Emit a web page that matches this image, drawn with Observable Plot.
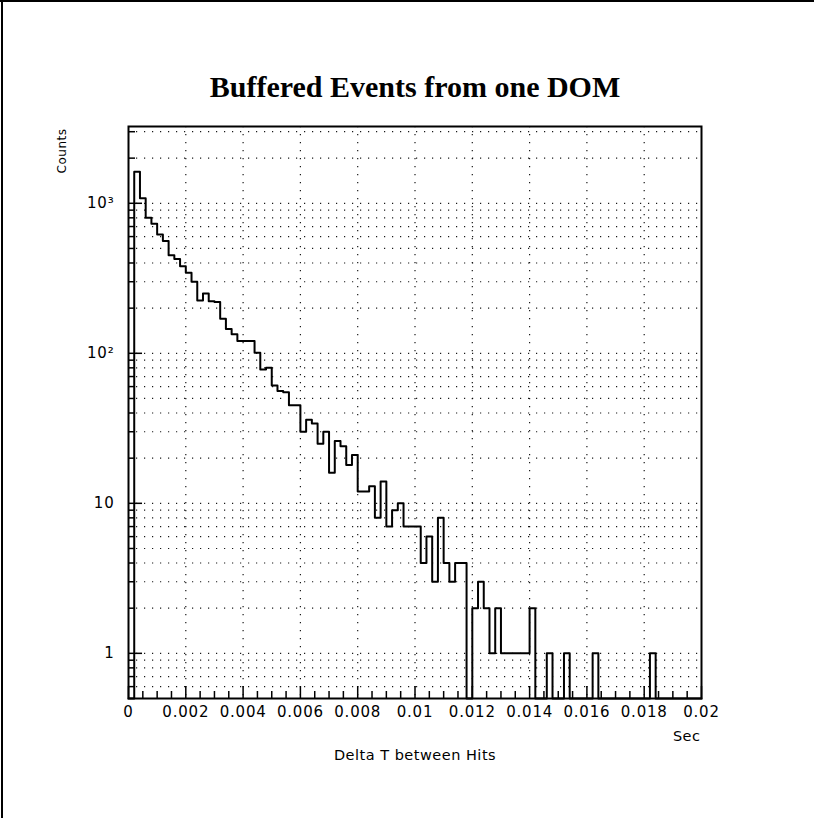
<!DOCTYPE html>
<html>
<head>
<meta charset="utf-8">
<script src="https://cdn.jsdelivr.net/npm/d3@7"></script>
<script src="https://cdn.jsdelivr.net/npm/@observablehq/plot@0.6"></script>
<style>
html, body { margin: 0; padding: 0; background: #fff; }
#wrap { position: relative; width: 814px; height: 818px; overflow: hidden; background: #fff; }
#wrap::before { content: ""; position: absolute; left: 1px; top: 0; width: 2px; height: 818px; background: #000; z-index: 2; }
#wrap::after { content: ""; position: absolute; left: 0; top: 0; width: 814px; height: 2px; background: #000; z-index: 2; }
#wrap svg { display: block; }
g[aria-label="x-axis tick label"] text, g[aria-label="y-axis tick label"] text { letter-spacing: 0.8px; }
g[aria-label="text"] text { letter-spacing: 0.5px; }
g[aria-label="text"][font-weight="bold"] text { letter-spacing: 0; }
</style>
</head>
<body>
<div id="wrap"></div>
<script>
// ---- texts ----
const titleText = "Buffered Events from one DOM";
const xTitle = "Delta T between Hits";
const xUnit = "Sec";
const yTitle = "Counts";

// ---- histogram: 100 bins of 0.0002 s from 0 to 0.02 s ----
const binWidth = 0.0002;
const counts = [
  0, 1620, 1080, 800, 730, 620, 560, 450, 425, 380,
  345, 300, 225, 250, 222, 220, 170, 145, 134, 121,
  121, 121, 101, 78, 80, 61, 56, 55, 45, 45,
  30, 36, 34, 25, 30, 16, 26, 24, 18, 21,
  12, 12, 13, 8, 14, 7, 9, 10, 7, 7,
  7, 4, 6, 3, 8, 4, 3, 4, 4, 0,
  2, 3, 2, 1, 2, 1, 1, 1, 1, 1,
  2, 0, 0, 1, 0, 0, 1, 0, 0, 0,
  0, 1, 0, 0, 0, 0, 0, 0, 0, 0,
  0, 1, 0, 0, 0, 0, 0, 0, 0, 0
];

// ---- axes ----
const xDomain = [0, 0.02];
const yDomain = [0.5, 3250];
const xTicks = [0, 0.002, 0.004, 0.006, 0.008, 0.01, 0.012, 0.014, 0.016, 0.018, 0.02];
const xTickLabels = ["0", "0.002", "0.004", "0.006", "0.008", "0.01", "0.012", "0.014", "0.016", "0.018", "0.02"];
const xGridTicks = [0.002, 0.004, 0.006, 0.008, 0.01, 0.012, 0.014, 0.016, 0.018];
const xMinorTicks = [
  0.0005, 0.001, 0.0015, 0.0025, 0.003, 0.0035, 0.0045, 0.005, 0.0055,
  0.0065, 0.007, 0.0075, 0.0085, 0.009, 0.0095, 0.0105, 0.011, 0.0115,
  0.0125, 0.013, 0.0135, 0.0145, 0.015, 0.0155, 0.0165, 0.017, 0.0175,
  0.0185, 0.019, 0.0195
];
const yMajorTicks = [1, 10, 100, 1000];
const yMajorLabels = ["1", "10", "10\u00B2", "10\u00B3"];
const yMinorTicks = [
  0.6, 0.7, 0.8, 0.9,
  2, 3, 4, 5, 6, 7, 8, 9,
  20, 30, 40, 50, 60, 70, 80, 90,
  200, 300, 400, 500, 600, 700, 800, 900,
  2000, 3000
];

// ---- build step data (empty bins drawn at the bottom of the log axis) ----
const steps = counts.map((c, i) => ({x: i * binWidth, y: c > 0 ? c : yDomain[0]}));
steps.push({x: counts.length * binWidth, y: steps[steps.length - 1].y});

const xLabelMap = new Map(xTicks.map((t, i) => [t, xTickLabels[i]]));
const yLabelMap = new Map(yMajorTicks.map((t, i) => [t, yMajorLabels[i]]));

const chart = Plot.plot({
  width: 814,
  height: 818,
  marginLeft: 128,
  marginRight: 113,
  marginTop: 126,
  marginBottom: 120,
  style: {fontFamily: "'DejaVu Sans', sans-serif", fontSize: "14px", color: "#000", background: "transparent"},
  x: {domain: xDomain, label: null},
  y: {type: "log", domain: yDomain, label: null},
  marks: [
    Plot.gridX(xGridTicks, {stroke: "#000", strokeOpacity: 0.9, strokeWidth: 1.2, strokeDasharray: "1.2,6.8"}),
    Plot.gridY([...yMajorTicks, ...yMinorTicks], {stroke: "#000", strokeOpacity: 0.9, strokeWidth: 1.2, strokeDasharray: "1.2,6.8"}),
    // ticks pointing inward
    Plot.axisX({ticks: xMinorTicks, tickSize: -7, tickFormat: () => "", strokeWidth: 1.5, label: null}),
    Plot.axisX({ticks: xTicks, tickSize: -12, tickFormat: () => "", strokeWidth: 1.5, label: null}),
    Plot.axisY({ticks: yMinorTicks, tickSize: -7, tickFormat: () => "", strokeWidth: 1.5, label: null}),
    Plot.axisY({ticks: yMajorTicks, tickSize: -14, tickFormat: () => "", strokeWidth: 1.5, label: null}),
    // tick labels
    Plot.axisX({ticks: xTicks, tickSize: 0, tickPadding: 8, tickFormat: d => xLabelMap.get(d), fontSize: 15, label: null}),
    Plot.axisY({ticks: yMajorTicks, tickSize: 0, tickPadding: 14, tickFormat: d => yLabelMap.get(d), fontSize: 15, label: null}),
    // histogram outline
    Plot.line(steps, {x: "x", y: "y", curve: "step-after", stroke: "#000", strokeWidth: 2}),
    Plot.frame({stroke: "#000", strokeWidth: 2}),
    // titles
    Plot.text([titleText], {frameAnchor: "top", lineAnchor: "middle", dy: -39, fontFamily: "'Liberation Serif', 'DejaVu Serif', serif", fontWeight: "bold", fontSize: 30, fill: "#000"}),
    Plot.text([xTitle], {frameAnchor: "bottom", lineAnchor: "middle", dy: 57, fontSize: 14.5, fill: "#000"}),
    Plot.text([xUnit], {frameAnchor: "bottom-right", lineAnchor: "middle", textAnchor: "end", dy: 38, dx: -1, fontSize: 14.5, fill: "#000"}),
    Plot.text([yTitle], {frameAnchor: "top-left", lineAnchor: "middle", rotate: -90, textAnchor: "end", dx: -66, dy: 2, fontSize: 12, fill: "#000"})
  ]
});

document.getElementById("wrap").appendChild(chart);
</script>
</body>
</html>
